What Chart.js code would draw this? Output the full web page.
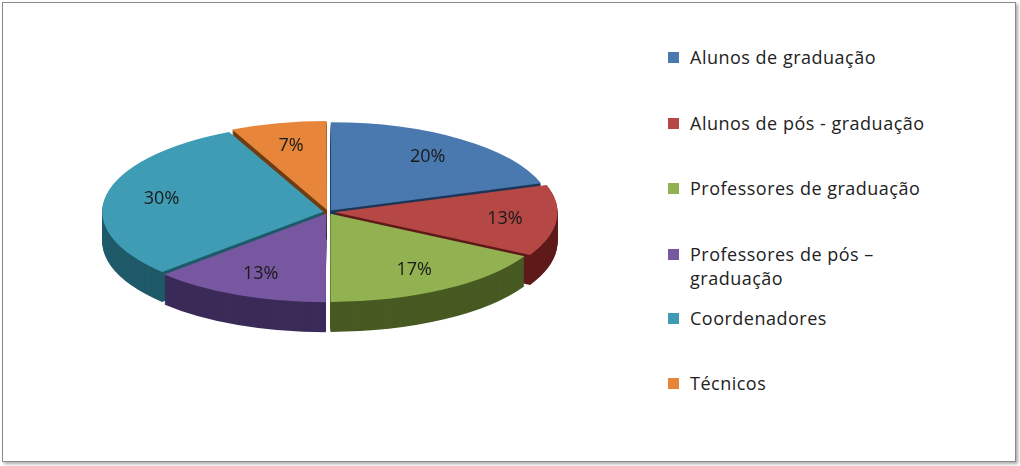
<!DOCTYPE html>
<html><head><meta charset="utf-8">
<script src="https://cdn.jsdelivr.net/npm/chart.js@4"></script>
<style>
body{margin:0;background:#fff;width:1020px;height:466px;overflow:hidden;font-family:"Open Sans",sans-serif}
#frame{position:absolute;left:2px;top:2px;width:1012px;height:458px;border:1px solid #8a8a8a;box-shadow:2px 2px 3px #aaa}
#wrap{position:absolute;left:0;top:0;width:640px;height:466px}
#legend{position:absolute;left:668px;top:0;font-size:18px;color:#222;letter-spacing:0.5px}
.it{position:absolute;white-space:nowrap}
.sq{position:absolute;left:0;width:11px;height:11px}
.tx{position:absolute;left:22px;line-height:24px}
</style></head><body>
<div id="frame"></div>
<div id="wrap"><canvas id="c"></canvas></div>
<div id="legend"></div>
<script>
const categories=["Alunos de graduação","Alunos de pós - graduação","Professores de graduação","Professores de pós – graduação","Coordenadores","Técnicos"];
const legendLines=[["Alunos de graduação"],["Alunos de pós - graduação"],["Professores de graduação"],["Professores de pós –","graduação"],["Coordenadores"],["Técnicos"]];
const values=[20,13,17,13,30,7];
const topColors=["#4a79b0","#b54745","#92b150","#7657a0","#3f9cb5","#e7853b"];
const sideColors=["#1e3656","#5e1a19","#475a22","#3b2b58","#1f5a69","#6e3d14"];
const legendY=[57,123,188,254,318,383];

const lg=document.getElementById('legend');
categories.forEach((c,i)=>{
  const d=document.createElement('div');d.className='it';d.style.top=(legendY[i]-12)+'px';
  d.innerHTML='<div class="sq" style="top:7px;background:'+topColors[i]+'"></div><div class="tx">'+legendLines[i].join('<br>')+'</div>';
  lg.appendChild(d);
});

const SX=1.38,SY=0.55,CX=328,CY=212,DEPTH=30;
function xf(ctx,cx,cy){ctx.translate(CX,CY);ctx.scale(SX,SY);ctx.translate(-cx,-cy);}
const pie3d={id:'pie3d',
  beforeDatasetsDraw(chart){
    const ctx=chart.ctx,meta=chart.getDatasetMeta(0);
    const cx=meta.data[0].x,cy=meta.data[0].y;
    for(let d=DEPTH;d>=1;d--){
      ctx.save();ctx.translate(0,d);xf(ctx,cx,cy);
      meta.data.forEach((el,i)=>{
        const o=el.options.backgroundColor,b=el.options.borderColor;
        el.options.backgroundColor=sideColors[i];el.options.borderColor=sideColors[i];
        el.draw(ctx);
        el.options.backgroundColor=o;el.options.borderColor=b;
      });
      ctx.restore();
    }
    ctx.save();xf(ctx,cx,cy);
  },
  afterDatasetsDraw(chart){
    const ctx=chart.ctx;ctx.restore();
    const meta=chart.getDatasetMeta(0);
    const cx=meta.data[0].x,cy=meta.data[0].y;
    ctx.save();ctx.font='18px "Open Sans"';ctx.fillStyle='#1a1a1a';ctx.textAlign='center';ctx.textBaseline='middle';
    meta.data.forEach((el,i)=>{
      const a=(el.startAngle+el.endAngle)/2;const r=el.outerRadius*0.68+el.options.offset;
      const px=cx+Math.cos(a)*r, py=cy+Math.sin(a)*r;
      ctx.fillText(values[i]+'%',CX+(px-cx)*SX,CY+(py-cy)*SY);
    });
    ctx.restore();
  }
};
new Chart(document.getElementById('c'),{
  type:'pie',
  data:{labels:categories,datasets:[{data:values,backgroundColor:topColors,borderColor:topColors,borderWidth:0,offset:[14,20,14,14,14,14]}]},
  options:{responsive:true,maintainAspectRatio:false,animation:false,events:[],radius:160,
    plugins:{legend:{display:false},tooltip:{enabled:false}}},
  plugins:[pie3d]
});
</script></body></html>
